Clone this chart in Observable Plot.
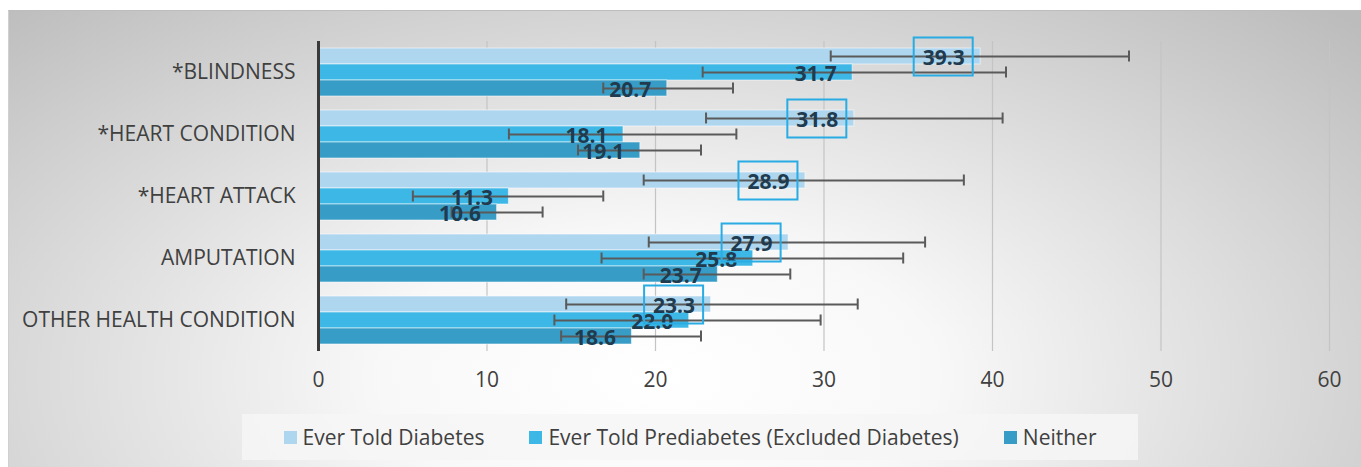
<!DOCTYPE html>
<html>
<head>
<meta charset="utf-8">
<script src="https://cdn.jsdelivr.net/npm/d3@7"></script>
<script src="https://cdn.jsdelivr.net/npm/@observablehq/plot@0.6"></script>
<style>
  html, body { margin: 0; padding: 0; background: #ffffff; }
  #wrap { position: relative; width: 1361px; height: 467px; overflow: hidden; font-family: "Open Sans", sans-serif; }
  #panel { position: absolute; left: 8px; top: 10px; right: 0; bottom: 0;
    border-top: 1px solid #bdbdbd; border-left: 1px solid #d0d0d0;
    background: radial-gradient(farthest-corner at 48% 80%, #ffffff 0%, #f8f8f8 28%, #bcbcbc 98%); }
  #chart { position: absolute; left: 0; top: 0; }
  #legend { position: absolute; left: 242px; top: 414px; width: 896px; height: 46px;
    background: rgba(246,246,246,0.85); display: flex; align-items: center; justify-content: center;
    gap: 45px; font-size: 21px; color: #404040; }
  .item { display: flex; align-items: center; gap: 6px; }
  .sw { width: 13px; height: 13px; display: inline-block; }
</style>
</head>
<body>
<div id="wrap">
  <div id="panel"></div>
  <div id="chart"></div>
  <div id="legend"></div>
</div>
<script>
const categories = ["*BLINDNESS", "*HEART CONDITION", "*HEART ATTACK", "AMPUTATION", "OTHER HEALTH CONDITION"];
const seriesNames = ["Ever Told Diabetes", "Ever Told Prediabetes (Excluded Diabetes)", "Neither"];
const diabetes = [39.3, 31.8, 28.9, 27.9, 23.3];
const prediabetes = [31.7, 18.1, 11.3, 25.8, 22.0];
const neither = [20.7, 19.1, 10.6, 23.7, 18.6];
const diabetesLow = [30.4, 23.0, 19.3, 19.6, 14.7];
const diabetesHigh = [48.1, 40.6, 38.3, 36.0, 32.0];
const prediabetesLow = [22.8, 11.3, 5.6, 16.8, 14.0];
const prediabetesHigh = [40.8, 24.8, 16.9, 34.7, 29.8];
const neitherLow = [16.9, 15.4, 7.9, 19.3, 14.4];
const neitherHigh = [24.6, 22.7, 13.3, 28.0, 22.7];
const xTicks = [0, 10, 20, 30, 40, 50, 60];

const seriesValues = [diabetes, prediabetes, neither];
const seriesLow = [diabetesLow, prediabetesLow, neitherLow];
const seriesHigh = [diabetesHigh, prediabetesHigh, neitherHigh];
const colors = ["#afd6ef", "#3db8e6", "#379cc6"];

const data = [];
categories.forEach((c, i) => {
  seriesNames.forEach((s, j) => {
    data.push({category: c, series: s, value: seriesValues[j][i], lo: seriesLow[j][i], hi: seriesHigh[j][i]});
  });
});
const boxed = data.filter(d => d.series === seriesNames[0]);

const rectSymbol = {
  draw(context) { context.rect(-29.5, -19, 59, 38); }
};

const chart = Plot.plot({
  width: 1361,
  height: 400,
  marginLeft: 318,
  marginRight: 32,
  marginTop: 40,
  marginBottom: 48,
  style: {fontFamily: "Open Sans, sans-serif", fontSize: "21px", color: "#404040", background: "transparent", overflow: "visible"},
  x: {domain: [0, 60], ticks: xTicks, tickSize: 0, tickPadding: 21, label: null},
  fy: {domain: categories, padding: 0, label: null, axis: "left", tickSize: 0, tickPadding: 23},
  y: {domain: seriesNames, paddingInner: 0, paddingOuter: 0.335, axis: null},
  color: {domain: seriesNames, range: colors},
  marks: [
    Plot.ruleX(xTicks.slice(1), {stroke: "#c4c4c4", strokeWidth: 1.2}),
    Plot.barX(data, {x: "value", y: "series", fy: "category", fill: "series", stroke: "#ffffff", strokeOpacity: 0.55, strokeWidth: 1}),
    Plot.ruleX([0], {stroke: "#3a3a3a", strokeWidth: 3}),
    Plot.ruleY(data, {x1: "lo", x2: "hi", y: "series", fy: "category", stroke: "#5a5a5a", strokeWidth: 2}),
    Plot.tickX(data, {x: "lo", y: "series", fy: "category", stroke: "#5a5a5a", strokeWidth: 2, insetTop: 2.5, insetBottom: 2.5}),
    Plot.tickX(data, {x: "hi", y: "series", fy: "category", stroke: "#5a5a5a", strokeWidth: 2, insetTop: 2.5, insetBottom: 2.5}),
    Plot.text(data, {x: "value", y: "series", fy: "category", text: d => d.value.toFixed(1), textAnchor: "end", dx: -16, dy: 2, fontWeight: 700, fontSize: 21, fill: "#203a4e"}),
    Plot.dot(boxed, {x: "value", y: "series", fy: "category", dx: -37.5, symbol: rectSymbol, r: 10, fill: "none", stroke: "#29ace3", strokeWidth: 2})
  ]
});
document.getElementById("chart").appendChild(chart);

const legend = document.getElementById("legend");
seriesNames.forEach((s, j) => {
  const item = document.createElement("div");
  item.className = "item";
  const sw = document.createElement("span");
  sw.className = "sw";
  sw.style.background = colors[j];
  const t = document.createElement("span");
  t.textContent = s;
  item.appendChild(sw);
  item.appendChild(t);
  legend.appendChild(item);
});
</script>
</body>
</html>
